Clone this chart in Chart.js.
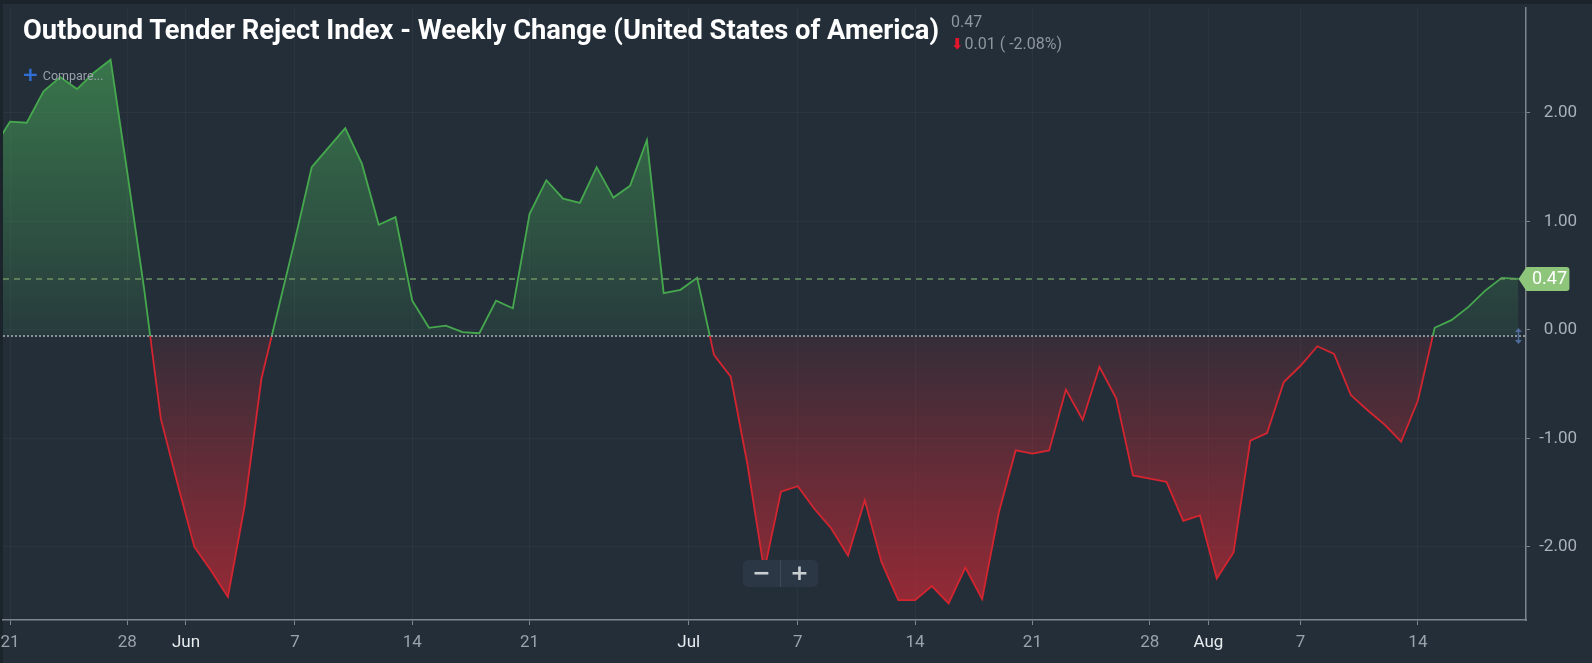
<!DOCTYPE html>
<html>
<head>
<meta charset="utf-8">
<script src="https://cdn.jsdelivr.net/npm/chart.js@4.4.0/dist/chart.umd.min.js"></script>
<style>
  html, body { margin: 0; padding: 0; background: #1b232b; }
  #wrap { position: relative; width: 1592px; height: 663px; overflow: hidden; }
  #chart { position: absolute; left: 0; top: 0; }
  .title { position: absolute; left: 23px; top: 16px; font: 700 28px Roboto, sans-serif; line-height: 28px; color: #ffffff; white-space: nowrap; transform-origin: 0 0; }
  .stat { position: absolute; font: 400 16px Roboto, sans-serif; line-height: 16px; color: #8e969e; white-space: nowrap; }
  .down { color: #e3172c; font: 700 15px "DejaVu Sans", sans-serif; margin-right: 1px; }
  .compare { position: absolute; left: 22px; top: 62px; font: 400 12.5px Roboto, sans-serif; color: #9aa2aa; white-space: nowrap; }
  .compare b { color: #2f6fd6; font: 700 20px "DejaVu Sans", sans-serif; margin-right: 4px; vertical-align: -1px; }
  .zoombox { position: absolute; left: 743px; top: 560px; width: 75px; height: 27px; background: #2b3744; border-radius: 5px; display: flex; }
  .zoombox span { flex: 1; text-align: center; color: #c9ced3; font: 700 22px "DejaVu Sans", sans-serif; line-height: 26px; }
  .zoombox span + span { border-left: 1px solid #3e4a57; }
</style>
</head>
<body>
<div id="wrap">
  <canvas id="chart" width="1592" height="663"></canvas>
  <div class="title" id="title">Outbound Tender Reject Index - Weekly Change (United States of America)</div>
  <div class="stat" style="left:951px; top:14px;">0.47</div>
  <div class="stat" style="left:951px; top:35px;"><span class="down">&#11015;</span>0.01 ( -2.08%)</div>
  <div class="compare"><b>+</b>Compare...</div>
  <div class="zoombox"><span>&minus;</span><span>+</span></div>
</div>
<script>
// daily values, first one is the day before May 21 (index -1)
const firstIndex = -1;
const values = [
    1.67, 1.92, 1.91, 2.20, 2.33, 2.22, 2.37, 2.49, 1.45, 0.38,
    -0.82, -1.42, -2.00, -2.22, -2.46, -1.62, -0.45, 0.19, 0.83, 1.50,
    1.68, 1.86, 1.53, 0.97, 1.04, 0.27, 0.02, 0.04, -0.02, -0.03,
    0.27, 0.20, 1.07, 1.38, 1.21, 1.17, 1.50, 1.22, 1.33, 1.75,
    0.34, 0.37, 0.48, -0.23, -0.43, -1.24, -2.22, -1.49, -1.44, -1.65,
    -1.83, -2.08, -1.57, -2.14, -2.49, -2.49, -2.36, -2.52, -2.19, -2.48,
    -1.68, -1.11, -1.14, -1.11, -0.55, -0.83, -0.34, -0.63, -1.34, -1.37,
    -1.40, -1.76, -1.71, -2.29, -2.05, -1.02, -0.95, -0.48, -0.33, -0.15,
    -0.22, -0.60, -0.74, -0.87, -1.03, -0.65, 0.02, 0.09, 0.21, 0.36,
    0.48, 0.47
];
const baseline = -0.056;

const tickIdx = [0, 7, 10.5, 17, 24, 31, 40.5, 47, 54, 61, 68, 71.5, 77, 84];
const tickLabels = ['21', '28', 'Jun', '7', '14', '21', 'Jul', '7', '14', '21', '28', 'Aug', '7', '14'];
const monthLabels = ['Jun', 'Jul', 'Aug'];
const yTicks = [-2, -1, 0, 1, 2];

const points = values.map((v, i) => ({x: i + firstIndex, y: v}));
const lastX = values.length - 1 + firstIndex;
const lastValue = values[values.length - 1];

function fillGradient(chart) {
    const {ctx, chartArea, scales} = chart;
    if (!chartArea || !scales.y) return 'rgba(0,0,0,0)';
    const yb = scales.y.getPixelForValue(baseline);
    const f = (yb - chartArea.top) / (chartArea.bottom - chartArea.top);
    const g = ctx.createLinearGradient(0, chartArea.top, 0, chartArea.bottom);
    g.addColorStop(0, 'rgba(72,168,88,0.68)');
    g.addColorStop(f, 'rgba(72,168,88,0.1)');
    g.addColorStop(f, 'rgba(210,40,52,0.1)');
    g.addColorStop(1, 'rgba(210,40,52,0.68)');
    return g;
}

function lineGradient(chart) {
    const {ctx, chartArea, scales} = chart;
    if (!chartArea || !scales.y) return '#43a64b';
    const yb = scales.y.getPixelForValue(baseline);
    const f = (yb - chartArea.top) / (chartArea.bottom - chartArea.top);
    const g = ctx.createLinearGradient(0, chartArea.top, 0, chartArea.bottom);
    g.addColorStop(0, '#45a84d');
    g.addColorStop(f, '#45a84d');
    g.addColorStop(f, '#d3242f');
    g.addColorStop(1, '#d3242f');
    return g;
}

const background = {
    id: 'background',
    beforeDraw(chart) {
        const c = chart.ctx;
        c.save();
        c.fillStyle = '#232e39';
        c.fillRect(3, 4, chart.width, chart.height);
        c.restore();
    }
};

const refLines = {
    id: 'refLines',
    afterDatasetsDraw(chart) {
        const c = chart.ctx;
        const area = chart.chartArea;
        const y = chart.scales.y;
        const x = chart.scales.x;
        const yb = y.getPixelForValue(baseline);
        const yl = y.getPixelForValue(lastValue);
        const xl = x.getPixelForValue(lastX);
        c.save();
        c.lineWidth = 2;
        c.strokeStyle = '#8b929a';
        c.setLineDash([2, 2]);
        c.beginPath();
        c.moveTo(area.left, yb);
        c.lineTo(area.right, yb);
        c.stroke();
        c.lineWidth = 1.5;
        c.strokeStyle = '#6b9363';
        c.setLineDash([6, 5]);
        c.beginPath();
        c.moveTo(area.left, yl);
        c.lineTo(xl, yl);
        c.stroke();
        c.restore();
    },
    afterDraw(chart) {
        const c = chart.ctx;
        const y = chart.scales.y;
        const x = chart.scales.x;
        const yb = y.getPixelForValue(baseline);
        const yl = y.getPixelForValue(lastValue);
        const xl = x.getPixelForValue(lastX);
        c.save();
        // right axis labels, right aligned like the original
        c.fillStyle = '#a9b1b9';
        c.font = '17px Roboto';
        c.textAlign = 'right';
        c.textBaseline = 'middle';
        y.ticks.forEach(t => c.fillText(t.value.toFixed(2), y.right - 15, y.getPixelForValue(t.value)));
        // value tag
        c.fillStyle = '#8dc57b';
        c.beginPath();
        c.moveTo(xl, yl);
        c.lineTo(xl + 8, yl - 12);
        c.lineTo(xl + 48, yl - 12);
        c.quadraticCurveTo(xl + 51, yl - 12, xl + 51, yl - 9);
        c.lineTo(xl + 51, yl + 9);
        c.quadraticCurveTo(xl + 51, yl + 12, xl + 48, yl + 12);
        c.lineTo(xl + 8, yl + 12);
        c.closePath();
        c.fill();
        c.fillStyle = '#ffffff';
        c.font = '18px Roboto';
        c.textAlign = 'center';
        c.fillText(lastValue.toFixed(2), xl + 31, yl + 1);
        // drag handle
        c.strokeStyle = '#4f6d9a';
        c.fillStyle = '#4f6d9a';
        c.lineWidth = 1.5;
        c.beginPath();
        c.moveTo(xl, yb - 5);
        c.lineTo(xl, yb + 5);
        c.stroke();
        c.beginPath();
        c.moveTo(xl - 3.5, yb - 4);
        c.lineTo(xl + 3.5, yb - 4);
        c.lineTo(xl, yb - 8);
        c.closePath();
        c.fill();
        c.beginPath();
        c.moveTo(xl - 3.5, yb + 4);
        c.lineTo(xl + 3.5, yb + 4);
        c.lineTo(xl, yb + 8);
        c.closePath();
        c.fill();
        c.restore();
    }
};

function noPad(s) {
    s.paddingLeft = 0;
    s.paddingRight = 0;
    s.paddingTop = 0;
    s.paddingBottom = 0;
}

const ctx = document.getElementById('chart').getContext('2d');
const chart = new Chart(ctx, {
    type: 'line',
    data: {
        datasets: [{
            data: points,
            borderColor: c => lineGradient(c.chart),
            backgroundColor: c => fillGradient(c.chart),
            borderWidth: 1.8,
            pointRadius: 0,
            tension: 0,
            fill: {target: {value: baseline}}
        }]
    },
    options: {
        responsive: false,
        animation: false,
        devicePixelRatio: 1,
        layout: {padding: {left: 3, top: 8, right: 0, bottom: 0}},
        plugins: {legend: {display: false}, tooltip: {enabled: false}},
        scales: {
            x: {
                type: 'linear',
                min: -0.418,
                max: 90.45,
                afterBuildTicks: s => { s.ticks = tickIdx.map(v => ({value: v})); },
                afterFit: s => { s.height = 43; noPad(s); },
                grid: {color: 'rgba(255,255,255,0.035)', tickColor: '#7d858d', tickLength: 5},
                border: {display: true, color: '#7d858d', width: 1.5},
                ticks: {
                    autoSkip: false,
                    maxRotation: 0,
                    padding: 8,
                    font: {family: 'Roboto', size: 17},
                    color: c => monthLabels.includes(tickLabels[c.index]) ? '#e8ecef' : '#9aa2aa',
                    callback: (v, i) => tickLabels[i]
                }
            },
            y: {
                position: 'right',
                min: -2.673,
                max: 2.967,
                afterBuildTicks: s => { s.ticks = yTicks.map(v => ({value: v})); },
                afterFit: s => { s.width = 66; noPad(s); },
                grid: {color: 'rgba(255,255,255,0.035)', tickColor: '#7d858d', tickLength: 4},
                border: {display: true, color: '#7d858d', width: 1.5},
                ticks: {display: false}
            }
        }
    },
    plugins: [background, refLines]
});

// squeeze the title to the condensed width of the original
const title = document.getElementById('title');
const w = title.getBoundingClientRect().width;
title.style.transform = `scaleX(${916 / w})`;
</script>
</body>
</html>
